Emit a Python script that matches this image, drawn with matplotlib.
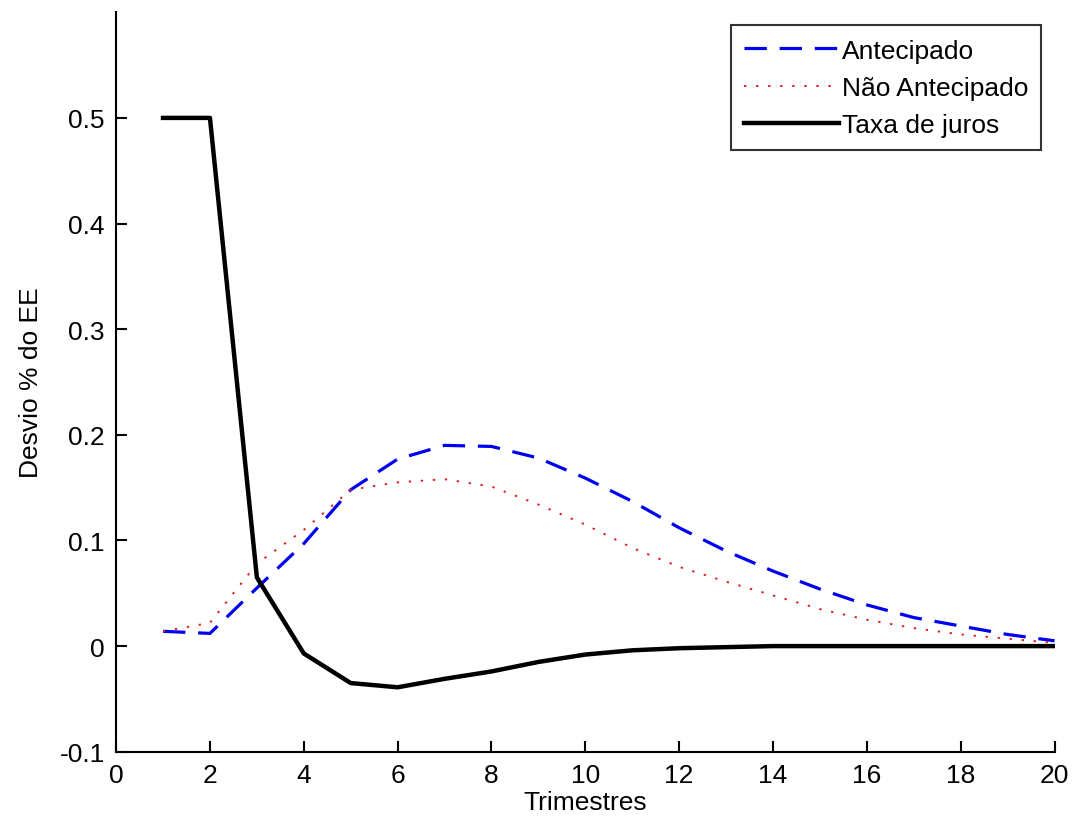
import matplotlib.pyplot as plt
import numpy as np

# quarters and impulse responses
trimestres = np.arange(1, 21)
antecipado = [0.014, 0.012, 0.055, 0.097, 0.148, 0.177, 0.190, 0.189, 0.178, 0.159,
              0.137, 0.112, 0.090, 0.071, 0.054, 0.039, 0.027, 0.019, 0.011, 0.005]
nao_antecipado = [0.014, 0.022, 0.078, 0.110, 0.148, 0.155, 0.158, 0.151, 0.134, 0.115,
                  0.093, 0.075, 0.061, 0.048, 0.035, 0.025, 0.017, 0.011, 0.007, 0.003]
taxa_juros = [0.500, 0.500, 0.065, -0.007, -0.035, -0.039, -0.031, -0.024, -0.015, -0.008,
              -0.004, -0.002, -0.001, 0.0, 0.0, 0.0, 0.0, 0.0, 0.0, 0.0]

plt.rcParams['font.family'] = ['Liberation Sans', 'DejaVu Sans']

fig = plt.figure(figsize=(10.75, 8.29), dpi=100)
ax = fig.add_axes([0.108, 0.092, 0.873, 0.892])

ax.plot(trimestres, antecipado, color='#0000ee', lw=2.3, dashes=(7, 4), label='Antecipado')
ax.plot(trimestres, nao_antecipado, color='#e02020', lw=1.4, dashes=(1.2, 5), label='Não Antecipado')
ax.plot(trimestres, taxa_juros, color='black', lw=3.2, label='Taxa de juros')

ax.set_xlim(0, 20)
ax.set_ylim(-0.1, 0.6)
ax.set_xticks(range(0, 21, 2))
ax.set_yticks([-0.1, 0, 0.1, 0.2, 0.3, 0.4, 0.5])
ax.set_yticklabels(['-0.1', '0', '0.1', '0.2', '0.3', '0.4', '0.5'])

for s in ['top', 'right']:
    ax.spines[s].set_visible(False)
for s in ['left', 'bottom']:
    ax.spines[s].set_linewidth(1.5)

ax.tick_params(direction='in', length=8, width=1.5, labelsize=19, pad=8)
ax.set_xlabel('Trimestres', fontsize=19, labelpad=2)
ax.set_ylabel('Desvio % do EE', fontsize=19, labelpad=12)

leg = ax.legend(loc='upper right', fontsize=19, frameon=True, fancybox=False,
                edgecolor='black', handlelength=3.6, handletextpad=0.1,
                borderpad=0.5, labelspacing=0.5, borderaxespad=0.5)
leg.get_frame().set_linewidth(1.5)

plt.savefig('out.png', dpi=100)
